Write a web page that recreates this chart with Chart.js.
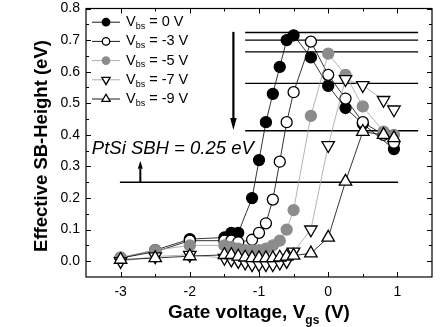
<!DOCTYPE html>
<html>
<head>
<meta charset="UTF-8">
<title>Effective SB-Height vs Gate voltage</title>
<style>
  html, body { margin: 0; padding: 0; background: #fff; }
  #wrap { width: 445px; height: 327px; }
</style>
</head>
<body>
<div id="wrap"><canvas id="sbhChart"></canvas></div>
<script src="https://cdn.jsdelivr.net/npm/chart.js"></script>
<script>
// gate voltage (V) / effective SB height (eV), one pair per body bias
const vgs0 = [-3, -2.5, -2, -1.5, -1.4, -1.3, -1.1, -1.0, -0.9, -0.8, -0.7, -0.6, -0.5, -0.25, 0, 0.25, 0.5, 0.95];
const sbh0 = [0.01, 0.035, 0.07, 0.075, 0.09, 0.09, 0.20, 0.32, 0.44, 0.53, 0.615, 0.70, 0.715, 0.645, 0.555, 0.485, 0.435, 0.355];

const vgs3 = [-3, -2.5, -2, -1.5, -1.4, -1.3, -1.1, -1.0, -0.9, -0.8, -0.7, -0.6, -0.5, -0.25, 0, 0.25, 0.5, 0.8, 0.95];
const sbh3 = [0.01, 0.03, 0.065, 0.065, 0.065, 0.06, 0.068, 0.09, 0.12, 0.195, 0.315, 0.44, 0.535, 0.695, 0.59, 0.515, 0.44, 0.40, 0.375];

const vgs5 = [-3, -2.5, -2, -1.5, -1.4, -1.3, -1.2, -1.1, -1.0, -0.9, -0.8, -0.7, -0.6, -0.5, -0.25, 0, 0.25, 0.5, 0.8, 0.95];
const sbh5 = [0.012, 0.035, 0.05, 0.05, 0.045, 0.04, 0.035, 0.035, 0.035, 0.04, 0.05, 0.065, 0.10, 0.162, 0.46, 0.657, 0.59, 0.49, 0.41, 0.40];

const vgs7 = [-3, -2.5, -2, -1.5, -1.4, -1.3, -1.2, -1.1, -1.0, -0.9, -0.8, -0.7, -0.6, -0.5, -0.25, 0, 0.25, 0.5, 0.8, 0.95];
const sbh7 = [0.0, 0.015, 0.02, 0.01, 0.005, 0.0, -0.005, -0.01, -0.01, -0.01, -0.01, -0.005, 0.0, 0.03, 0.10, 0.367, 0.576, 0.557, 0.51, 0.48];

const vgs9 = [-3, -2.5, -2, -1.5, -1.4, -1.3, -1.2, -1.1, -1.0, -0.9, -0.8, -0.7, -0.6, -0.5, -0.25, 0, 0.25, 0.5, 0.8, 0.95];
const sbh9 = [0.005, 0.01, 0.016, 0.02, 0.02, 0.015, 0.012, 0.01, 0.01, 0.01, 0.01, 0.012, 0.015, 0.018, 0.025, 0.075, 0.252, 0.41, 0.40, 0.39];

const biasLabels = ['0', '-3', '-5', '-7', '-9'];

// horizontal reference levels
const peakLineX = [-1.2, 1.3];
const peakLevels = [0.724, 0.70, 0.663, 0.563, 0.413];
const ptsiLineX = [-3.01, 1.01];
const ptsiLevel = 0.25;

const xTicks = [-3, -2, -1, 0, 1];
const xMinorTicks = [-2.5, -1.5, -0.5, 0.5];
const yTicks = [0, 0.1, 0.2, 0.3, 0.4, 0.5, 0.6, 0.7, 0.8];
const yMinorTicks = [0.05, 0.15, 0.25, 0.35, 0.45, 0.55, 0.65, 0.75];

const GRAY = '#8c8c8c';
const GRAY_LINE = '#a0a0a0';

const styles = [
  { style: 'circle', rot: 0, fill: '#000', edge: '#000', line: '#000', r: 5.5 },
  { style: 'circle', rot: 0, fill: '#fff', edge: '#000', line: '#000', r: 5.5 },
  { style: 'circle', rot: 0, fill: GRAY, edge: GRAY, line: GRAY_LINE, r: 5.5 },
  { style: 'triangle', rot: 180, fill: '#fff', edge: '#000', line: GRAY_LINE, r: 7.2 },
  { style: 'triangle', rot: 0, fill: '#fff', edge: '#000', line: '#000', r: 7.2 }
];

function pts(xs, ys) {
  return xs.map((v, i) => ({ x: v, y: ys[i] }));
}

const series = [[vgs0, sbh0], [vgs3, sbh3], [vgs5, sbh5], [vgs7, sbh7], [vgs9, sbh9]];

const datasets = series.map((s, i) => ({
  label: 'Vbs = ' + biasLabels[i] + ' V',
  data: pts(s[0], s[1]),
  showLine: true,
  borderColor: styles[i].line,
  borderWidth: 0.8,
  pointStyle: styles[i].style,
  rotation: styles[i].rot,
  pointRadius: styles[i].r,
  pointBackgroundColor: styles[i].fill,
  pointBorderColor: styles[i].edge,
  pointBorderWidth: 1.3,
  order: 5 - i
}));

peakLevels.forEach(lv => {
  datasets.push({
    data: pts(peakLineX, [lv, lv]),
    showLine: true, borderColor: '#000', borderWidth: 1.3, pointRadius: 0, order: 10
  });
});
datasets.push({
  data: pts(ptsiLineX, [ptsiLevel, ptsiLevel]),
  showLine: true, borderColor: '#000', borderWidth: 1.5, pointRadius: 0, order: 10
});

function marker(ctx, st, x, y, r) {
  ctx.beginPath();
  if (st.style === 'circle') {
    ctx.arc(x, y, r, 0, Math.PI * 2);
  } else {
    const dir = st.rot === 180 ? 1 : -1;
    ctx.moveTo(x, y + dir * r);
    ctx.lineTo(x - r * 0.866, y - dir * r * 0.5);
    ctx.lineTo(x + r * 0.866, y - dir * r * 0.5);
    ctx.closePath();
  }
  ctx.fillStyle = st.fill;
  ctx.fill();
  ctx.lineWidth = 1.3;
  ctx.strokeStyle = st.edge;
  ctx.stroke();
}

function arrow(ctx, x, y0, y1, lw, hw, hl) {
  const dir = y1 > y0 ? 1 : -1;
  ctx.lineWidth = lw;
  ctx.beginPath();
  ctx.moveTo(x, y0);
  ctx.lineTo(x, y1 - dir * hl);
  ctx.stroke();
  ctx.beginPath();
  ctx.moveTo(x, y1);
  ctx.lineTo(x - hw / 2, y1 - dir * hl);
  ctx.lineTo(x + hw / 2, y1 - dir * hl);
  ctx.closePath();
  ctx.fill();
}

// text with a subscript part: [main, sub, rest]
function subText(ctx, x, y, parts, size, subSize, bold) {
  const w = bold ? 'bold ' : '';
  ctx.font = w + size + 'px Arial';
  ctx.fillText(parts[0], x, y);
  x += ctx.measureText(parts[0]).width;
  ctx.font = w + subSize + 'px Arial';
  ctx.fillText(parts[1], x, y + size * 0.3);
  x += ctx.measureText(parts[1]).width;
  ctx.font = w + size + 'px Arial';
  ctx.fillText(parts[2], x, y);
}

function subWidth(ctx, parts, size, subSize, bold) {
  const w = bold ? 'bold ' : '';
  ctx.font = w + size + 'px Arial';
  let t = ctx.measureText(parts[0]).width + ctx.measureText(parts[2]).width;
  ctx.font = w + subSize + 'px Arial';
  return t + ctx.measureText(parts[1]).width;
}

const decor = {
  id: 'decor',
  afterDatasetsDraw(chart) {
    const { ctx, chartArea: a, scales: { x, y } } = chart;
    ctx.save();
    ctx.strokeStyle = '#000';
    ctx.fillStyle = '#000';

    // frame
    ctx.lineWidth = 1.2;
    ctx.strokeRect(a.left, a.top, a.right - a.left, a.bottom - a.top);

    // inward ticks on all sides
    ctx.lineWidth = 1;
    const tx = (v, len) => {
      const p = Math.round(x.getPixelForValue(v)) + 0.5;
      ctx.beginPath();
      ctx.moveTo(p, a.bottom); ctx.lineTo(p, a.bottom - len);
      ctx.moveTo(p, a.top); ctx.lineTo(p, a.top + len);
      ctx.stroke();
    };
    const ty = (v, len) => {
      const p = Math.round(y.getPixelForValue(v)) + 0.5;
      ctx.beginPath();
      ctx.moveTo(a.left, p); ctx.lineTo(a.left + len, p);
      ctx.moveTo(a.right, p); ctx.lineTo(a.right - len, p);
      ctx.stroke();
    };
    xTicks.forEach(v => tx(v, 5));
    xMinorTicks.forEach(v => tx(v, 3));
    yTicks.forEach(v => ty(v, 5));
    yMinorTicks.forEach(v => ty(v, 3));

    // arrows
    arrow(ctx, x.getPixelForValue(-1.37), y.getPixelForValue(0.726), y.getPixelForValue(0.415), 2.2, 6.5, 12);
    arrow(ctx, x.getPixelForValue(-2.715), y.getPixelForValue(0.25), y.getPixelForValue(0.318), 2, 5, 8);

    // annotation
    ctx.font = 'italic 18.5px Arial';
    ctx.textAlign = 'left';
    ctx.textBaseline = 'alphabetic';
    ctx.fillText('PtSi SBH = 0.25 eV', x.getPixelForValue(-3.416), y.getPixelForValue(0.339));

    // legend
    const lx0 = a.left + 6, lx1 = a.left + 34, tx0 = a.left + 40;
    styles.forEach((st, i) => {
      const ly = a.top + 13.7 + i * 19.2;
      ctx.strokeStyle = st.line;
      ctx.lineWidth = 0.9;
      ctx.beginPath();
      ctx.moveTo(lx0, ly); ctx.lineTo(lx1, ly);
      ctx.stroke();
      marker(ctx, st, (lx0 + lx1) / 2, ly, st.style === 'circle' ? 3.7 : 4.8);
      ctx.fillStyle = '#000';
      ctx.textBaseline = 'middle';
      subText(ctx, tx0, ly, ['V', 'bs', ' = ' + biasLabels[i] + ' V'], 14.5, 9, false);
    });

    // axis titles
    ctx.fillStyle = '#000';
    ctx.textBaseline = 'alphabetic';
    const xt = ['Gate voltage, V', 'gs', ' (V)'];
    const xw = subWidth(ctx, xt, 19, 12, true);
    subText(ctx, 259 - xw / 2, 318, xt, 19, 12, true);

    ctx.translate(47, 146);
    ctx.rotate(-Math.PI / 2);
    ctx.font = 'bold 18.5px Arial';
    ctx.textAlign = 'center';
    ctx.fillText('Effective SB-Height (eV)', 0, 0);
    ctx.restore();
  }
};

new Chart(document.getElementById('sbhChart'), {
  type: 'scatter',
  data: { datasets: datasets },
  options: {
    responsive: true,
    maintainAspectRatio: false,
    animation: false,
    layout: { padding: { left: 0, top: 8, right: 13, bottom: 0 } },
    plugins: { legend: { display: false }, tooltip: { enabled: false } },
    scales: {
      x: {
        type: 'linear', min: -3.5, max: 1.5,
        afterBuildTicks: s => { s.ticks = xTicks.map(v => ({ value: v })); },
        afterFit: s => { s.height = 50; s.paddingLeft = 0; s.paddingRight = 0; },
        grid: { display: false, drawTicks: false },
        border: { display: false },
        ticks: { color: '#000', font: { family: 'Arial', size: 14 }, padding: 7, callback: v => String(v) }
      },
      y: {
        type: 'linear', min: -0.05, max: 0.8,
        afterBuildTicks: s => { s.ticks = yTicks.map(v => ({ value: v })); },
        afterFit: s => { s.width = 86; s.paddingTop = 0; s.paddingBottom = 0; },
        grid: { display: false, drawTicks: false },
        border: { display: false },
        ticks: { color: '#000', font: { family: 'Arial', size: 14 }, padding: 6, callback: v => v.toFixed(1) }
      }
    }
  },
  plugins: [decor]
});
</script>
</body>
</html>
